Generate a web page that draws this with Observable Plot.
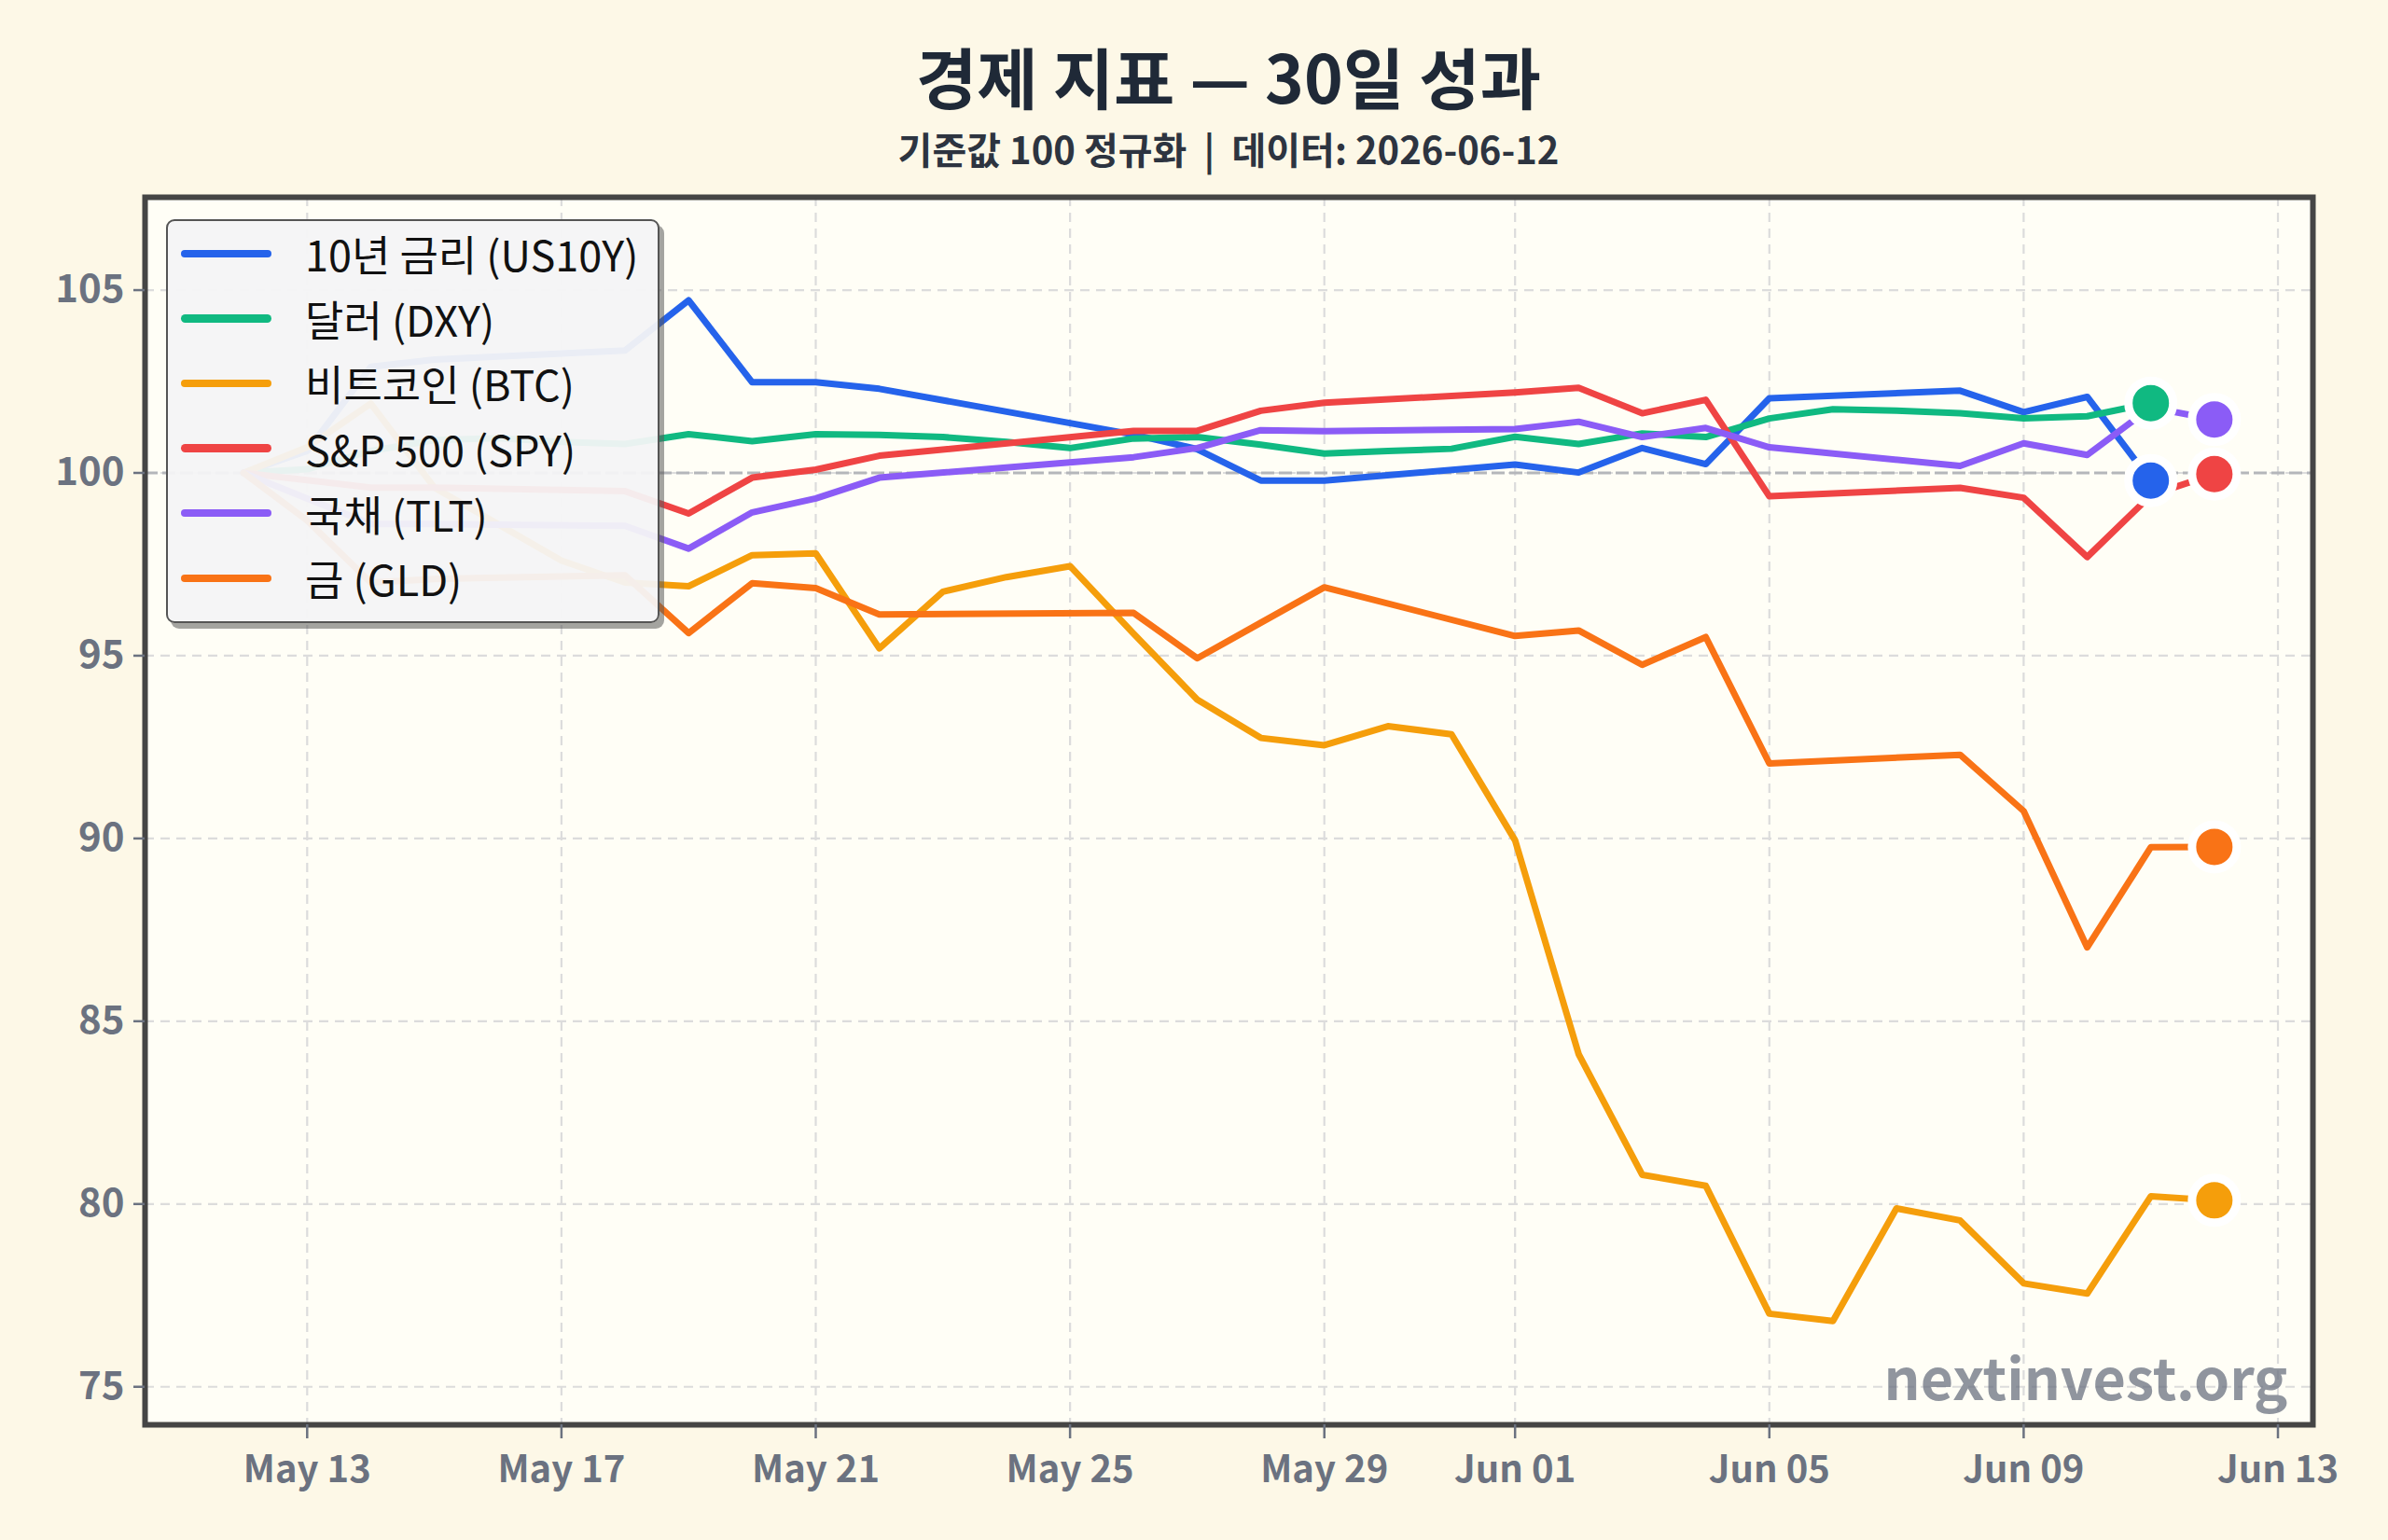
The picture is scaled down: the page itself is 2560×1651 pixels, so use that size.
<!DOCTYPE html>
<html>
<head>
<meta charset="utf-8">
<script src="https://cdn.jsdelivr.net/npm/d3@7"></script>
<script src="https://cdn.jsdelivr.net/npm/@observablehq/plot@0.6"></script>
<style>
  html, body { margin: 0; padding: 0; background: #fdf8e7; }
  #wrap { position: relative; width: 2560px; height: 1651px; background: #fdf8e7; font-family: "Noto Sans CJK KR", "Noto Sans", sans-serif; }
  #title { position: absolute; left: 155px; width: 2324px; top: 45px; text-align: center; font-weight: 700; font-size: 71px; line-height: 1; color: #1f2937; }
  #subtitle { position: absolute; left: 155px; width: 2324px; top: 139px; text-align: center; font-weight: 700; font-size: 40px; line-height: 1; color: #2d3440; white-space: pre; }
  #chart { position: absolute; left: 0; top: 180px; }
  #legend { position: absolute; left: 178px; top: 235px; width: 529px; height: 433px; box-sizing: border-box;
            background: rgba(244,244,246,0.95); border: 2px solid #555; border-radius: 9px;
            box-shadow: 5px 6px 0 rgba(90,90,90,0.55); padding-top: 0px; }
  .row { height: 69.6px; display: flex; align-items: center; }
  .swatch { margin-left: 14px; width: 97px; height: 8.5px; border-radius: 4.5px; }
  .lab { margin-left: 36px; font-size: 45px; color: #111; white-space: nowrap; }
</style>
</head>
<body>
<div id="wrap">
  <div id="title"></div>
  <div id="subtitle"></div>
  <div id="chart"></div>
  <div id="legend"></div>
</div>
<script>
const titleText = "경제 지표 — 30일 성과";
const subtitleText = "기준값 100 정규화  |  데이터: 2026-06-12";
const watermark = "nextinvest.org";

const seriesKeys = ["US10Y", "DXY", "BTC", "SPY", "TLT", "GLD"];
const seriesLabels = ["10년 금리 (US10Y)", "달러 (DXY)", "비트코인 (BTC)", "S&P 500 (SPY)", "국채 (TLT)", "금 (GLD)"];
const seriesColors = ["#2563eb", "#10b981", "#f59e0b", "#ef4444", "#8b5cf6", "#f97316"];

const dailyDates = ["2026-05-12","2026-05-13","2026-05-14","2026-05-15","2026-05-16","2026-05-17","2026-05-18",
  "2026-05-19","2026-05-20","2026-05-21","2026-05-22","2026-05-23","2026-05-24","2026-05-25","2026-05-26",
  "2026-05-27","2026-05-28","2026-05-29","2026-05-30","2026-05-31","2026-06-01","2026-06-02","2026-06-03",
  "2026-06-04","2026-06-05","2026-06-06","2026-06-07","2026-06-08","2026-06-09","2026-06-10","2026-06-11","2026-06-12"];
const tradingDates = ["2026-05-12","2026-05-13","2026-05-14","2026-05-15","2026-05-18","2026-05-19","2026-05-20",
  "2026-05-21","2026-05-22","2026-05-26","2026-05-27","2026-05-28","2026-05-29","2026-06-01","2026-06-02",
  "2026-06-03","2026-06-04","2026-06-05","2026-06-08","2026-06-09","2026-06-10","2026-06-11","2026-06-12"];

const us10y = [100, 100.6, 102.9, 103.1, 103.35, 104.72, 102.48, 102.48, 102.3, 101.05, 100.65, 99.79, 99.79,
  100.23, 100.01, 100.68, 100.24, 102.04, 102.25, 101.66, 102.08, 99.79];
const dxy = [100, 100.1, 100.6, 100.9, 100.95, 100.85, 100.79, 101.06, 100.87, 101.06, 101.04, 100.98, 100.85,
  100.68, 100.94, 100.98, 100.77, 100.53, 100.6, 100.66, 100.99, 100.79, 101.08, 100.98, 101.49, 101.74, 101.7,
  101.63, 101.49, 101.55, 101.91];
const btc = [100, 100.7, 101.9, 99.6, 98.6, 97.6, 97.0, 96.9, 97.75, 97.8, 95.2, 96.75, 97.15, 97.45, 95.6,
  93.8, 92.75, 92.55, 93.07, 92.85, 89.95, 84.1, 80.8, 80.5, 77.0, 76.8, 79.88, 79.55, 77.83, 77.55, 80.21, 80.1];
const spy = [100, 99.8, 99.6, 99.6, 99.5, 98.89, 99.87, 100.09, 100.47, 101.15, 101.15, 101.7, 101.92,
  102.2, 102.33, 101.63, 102.0, 99.36, 99.59, 99.32, 97.7, 99.39, 99.97];
const tlt = [100, 99.3, 98.6, 98.6, 98.55, 97.93, 98.92, 99.3, 99.87, 100.43, 100.68, 101.17, 101.14,
  101.2, 101.4, 100.98, 101.23, 100.7, 100.19, 100.81, 100.49, 101.79, 101.46];
const gld = [100, 98.7, 97.0, 97.1, 97.2, 95.62, 96.98, 96.85, 96.13, 96.17, 94.93, 95.9, 96.87,
  95.54, 95.69, 94.75, 95.51, 92.05, 92.29, 90.75, 87.02, 89.76, 89.77];

const xTickDates = ["2026-05-13","2026-05-17","2026-05-21","2026-05-25","2026-05-29","2026-06-01","2026-06-05","2026-06-09","2026-06-13"];
const yTicks = [75, 80, 85, 90, 95, 100, 105];
const referenceValue = [100];

const parse = s => new Date(s + "T00:00:00Z");
const seriesValues = [us10y, dxy, btc, spy, tlt, gld];
const seriesDates = [tradingDates, dailyDates, dailyDates, tradingDates, tradingDates, tradingDates];
const rows = [];
seriesKeys.forEach((k, i) => {
  seriesValues[i].forEach((v, j) => rows.push({key: k, date: parse(seriesDates[i][j]), value: v}));
});
const xTicks = xTickDates.map(parse);

const xDomain = [new Date(Date.UTC(2026, 4, 10, 10, 48)), new Date(Date.UTC(2026, 5, 13, 13, 12))];

const chart = Plot.plot({
  width: 2560,
  height: 1437,
  marginTop: 31,
  marginBottom: 90,
  marginLeft: 155,
  marginRight: 81,
  style: {background: "transparent", fontFamily: "'Noto Sans CJK KR', 'Noto Sans', sans-serif"},
  x: {type: "utc", domain: xDomain},
  y: {domain: [73.96, 107.54]},
  color: {domain: seriesKeys, range: seriesColors},
  marks: [
    Plot.frame({fill: "#fffef6", stroke: null}),
    Plot.ruleX(xTicks, {stroke: "#dcdcdc", strokeWidth: 2.2, strokeDasharray: "10,7"}),
    Plot.ruleY(yTicks, {stroke: "#dcdcdc", strokeWidth: 2.2, strokeDasharray: "10,7"}),
    Plot.ruleY(referenceValue, {stroke: "#b4b6ba", strokeWidth: 3, strokeDasharray: "14,5"}),
    Plot.line(rows, {x: "date", y: "value", z: "key", stroke: "key", strokeWidth: 7, strokeLinejoin: "round", strokeLinecap: "round"}),
    Plot.dot(rows, Plot.selectLast({x: "date", y: "value", z: "key", fill: "key", r: 24, stroke: "white", strokeWidth: 9})),
    Plot.text([watermark], {frameAnchor: "bottom-right", dx: -27, dy: -27, lineAnchor: "bottom", textAnchor: "end",
      fontSize: 61, fontWeight: "bold", fill: "#6b7280", fillOpacity: 0.75}),
    Plot.frame({stroke: "#454545", strokeWidth: 6}),
    Plot.axisX({ticks: xTicks, tickFormat: d3.utcFormat("%b %d"), tickSize: 15, tickPadding: 18, label: null,
      fontSize: 40, fontWeight: "bold", color: "#6b7280", strokeWidth: 2.5}),
    Plot.axisY({ticks: yTicks, tickSize: 12, tickPadding: 10, label: null,
      fontSize: 42, fontWeight: "bold", color: "#6b7280", strokeWidth: 2.5})
  ]
});

document.getElementById("chart").appendChild(chart);
document.getElementById("title").textContent = titleText;
document.getElementById("subtitle").textContent = subtitleText;

const legend = document.getElementById("legend");
seriesKeys.forEach((k, i) => {
  const row = document.createElement("div");
  row.className = "row";
  const sw = document.createElement("div");
  sw.className = "swatch";
  sw.style.background = seriesColors[i];
  const lab = document.createElement("div");
  lab.className = "lab";
  lab.textContent = seriesLabels[i];
  row.appendChild(sw);
  row.appendChild(lab);
  legend.appendChild(row);
});
</script>
</body>
</html>
